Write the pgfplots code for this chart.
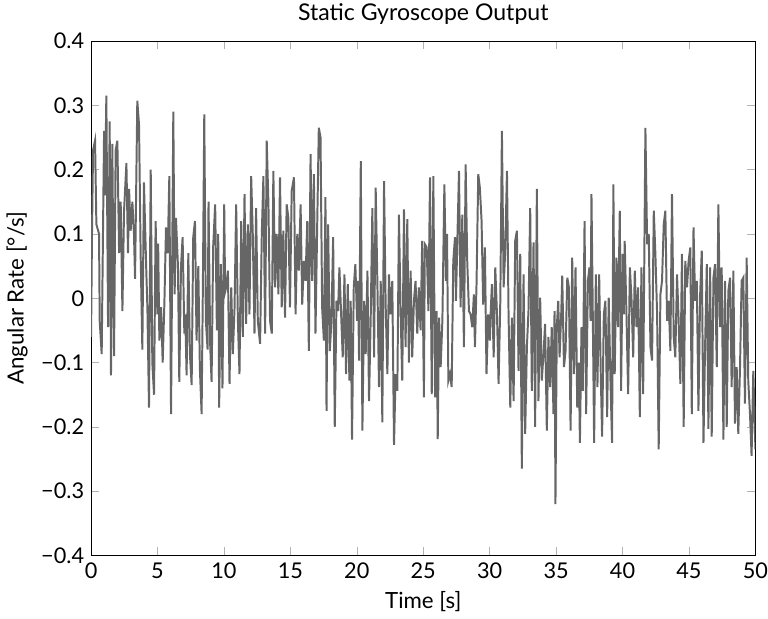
\documentclass[border=0pt]{standalone}
\usepackage{fontspec}
\setmainfont{Lato}
\usepackage{pgfplots}
\pgfplotsset{compat=1.18}
\definecolor{sig}{RGB}{102,102,102}
\begin{document}
\begin{tikzpicture}
\begin{axis}[
  width=337pt, height=261pt, scale only axis,
  xmin=0, xmax=50, ymin=-0.4, ymax=0.4,
  xtick distance=5,
  ytick={-0.4,-0.3,-0.2,-0.1,0,0.1,0.2,0.3,0.4},
  yticklabels={−0.4,−0.3,−0.2,−0.1,0,0.1,0.2,0.3,0.4},
  /pgf/number format/assume math mode=true,
  tick label style={font=\fontsize{11}{13}\selectfont},
  xticklabel style={inner xsep=0pt},
  label style={font=\fontsize{11.3}{13}\selectfont},
  title style={font=\fontsize{11.7}{13}\selectfont, inner sep=2pt},
  title={Static Gyroscope Output},
  xlabel={Time [s]},
  ylabel={Angular Rate [°/s]},
  tick style={gray!60},
]
\addplot[color=sig, line width=1pt] table {
0.00 -0.06
0.07 0.10
0.15 0.23
0.30 0.245
0.40 0.115
0.60 0.10
0.65 -0.035
0.80 -0.087
0.98 0.26
1.05 0.16
1.15 0.315
1.28 -0.045
1.40 0.275
1.50 -0.12
1.60 0.24
1.73 -0.09
1.85 0.23
1.98 0.245
2.11 0.07
2.23 0.15
2.36 -0.02
2.48 0.135
2.66 0.21
2.78 0.07
2.86 0.17
2.98 0.105
3.11 0.15
3.23 0.10
3.31 0.03
3.48 0.307
3.61 0.27
3.73 0.07
3.86 -0.08
3.98 0.18
4.16 0.04
4.24 -0.015
4.36 -0.17
4.49 0.20
4.61 -0.10
4.74 -0.15
4.86 0.12
4.99 -0.025
5.05 0.085
5.14 -0.066
5.27 -0.014
5.39 -0.10
5.52 -0.006
5.64 0.11
5.77 0.07
5.89 0.19
6.02 -0.18
6.19 0.29
6.29 0.006
6.39 0.125
6.54 0.05
6.64 -0.13
6.77 0.05
6.89 0.095
7.02 -0.055
7.09 -0.025
7.19 -0.12
7.32 0.07
7.44 -0.087
7.57 -0.135
7.69 0.095
7.82 0.12
7.94 -0.066
8.07 0.05
8.19 -0.11
8.32 -0.18
8.42 0.03
8.52 0.286
8.64 -0.035
8.77 -0.08
8.84 0.15
8.97 -0.076
9.07 -0.13
9.19 0.08
9.34 0.146
9.47 -0.05
9.57 0.10
9.64 -0.17
9.77 0.053
9.89 -0.14
10.02 0.146
10.09 0.01
10.17 0.017
10.30 0.043
10.42 -0.133
10.55 0.017
10.67 -0.087
10.80 -0.014
10.92 0.146
11.05 -0.035
11.17 -0.118
11.30 0.12
11.42 -0.06
11.55 0.162
11.67 -0.04
11.80 0.115
11.92 -0.025
12.05 0.19
12.17 0.10
12.30 -0.055
12.42 0.14
12.55 -0.035
12.72 -0.071
12.85 0.10
12.97 0.19
13.10 -0.055
13.22 0.245
13.35 0.146
13.47 -0.035
13.60 -0.055
13.72 0.198
13.85 0.017
13.97 0.10
14.10 0.006
14.22 0.188
14.35 -0.014
14.47 0.105
14.60 -0.03
14.72 0.146
14.85 0.125
14.97 -0.014
15.10 0.167
15.27 0.188
15.39 -0.025
15.52 0.10
15.64 0.043
15.77 0.146
15.89 -0.01
16.02 0.058
16.14 0.027
16.27 0.12
16.39 -0.082
16.52 0.224
16.64 0.027
16.77 0.193
16.89 -0.055
17.02 0.115
17.14 0.265
17.27 0.25
17.39 -0.014
17.52 -0.066
17.64 0.157
17.72 -0.175
17.84 0.115
17.97 -0.082
18.09 -0.035
18.22 0.095
18.34 -0.20
18.47 -0.004
18.59 -0.02
18.69 0.048
18.82 -0.025
18.94 -0.092
19.07 0.037
19.19 -0.118
19.32 0.022
19.44 -0.128
19.54 -0.004
19.64 -0.22
19.77 0.017
19.89 0.053
20.02 -0.035
20.09 0.027
20.17 -0.097
20.30 0.213
20.42 -0.206
20.55 -0.004
20.67 -0.087
20.80 0.043
20.92 -0.16
21.05 -0.025
21.17 0.14
21.30 -0.092
21.42 0.172
21.55 0.022
21.67 -0.138
21.80 0.027
21.92 -0.193
22.05 0.182
22.17 -0.01
22.30 -0.118
22.42 0.037
22.55 -0.025
22.67 0.027
22.80 -0.228
22.92 -0.118
23.05 -0.144
23.17 0.13
23.30 -0.025
23.42 -0.128
23.55 0.138
23.67 -0.076
23.80 0.123
23.92 -0.10
24.05 0.043
24.17 -0.092
24.30 -0.004
24.42 0.027
24.55 -0.055
24.67 0.017
24.80 -0.05
24.92 0.089
25.05 -0.154
25.12 0.084
25.26 0.079
25.39 -0.02
25.51 0.188
25.64 -0.149
25.76 0.19
25.89 -0.154
26.01 -0.02
26.09 -0.219
26.19 -0.03
26.31 -0.107
26.44 -0.035
26.59 0.177
26.71 0.027
26.79 0.10
26.89 -0.128
27.01 -0.118
27.14 -0.138
27.26 0.058
27.39 0.095
27.46 -0.004
27.56 0.084
27.69 0.198
27.81 -0.014
27.94 0.13
28.06 -0.076
28.19 0.208
28.31 0.058
28.44 -0.02
28.56 -0.025
28.69 -0.045
28.81 0.006
28.89 -0.076
29.01 0.022
29.14 0.193
29.26 0.172
29.39 0.12
29.51 -0.01
29.64 0.079
29.76 -0.118
29.89 -0.025
30.01 -0.066
30.09 -0.014
30.17 0.022
30.30 -0.092
30.42 0.048
30.55 -0.025
30.67 -0.133
30.80 -0.004
30.92 0.26
31.05 0.017
31.17 0.074
31.30 0.198
31.42 -0.025
31.55 -0.17
31.67 -0.03
31.80 -0.16
31.92 0.089
32.05 0.105
32.17 -0.113
32.30 0.069
32.42 -0.265
32.55 0.037
32.67 -0.211
32.80 -0.076
32.92 -0.02
33.05 0.14
33.17 -0.144
33.30 0.087
33.42 -0.20
33.55 0.17
33.67 -0.16
33.80 0.001
33.92 -0.128
34.05 -0.087
34.17 -0.04
34.30 -0.206
34.42 -0.06
34.55 -0.138
34.67 -0.045
34.80 -0.18
34.88 -0.02
34.95 -0.32
35.05 -0.045
35.16 -0.004
35.26 -0.092
35.39 -0.02
35.46 0.035
35.59 -0.107
35.71 -0.082
35.84 0.032
35.96 0.017
36.09 -0.206
36.21 0.063
36.34 -0.118
36.46 0.048
36.59 -0.17
36.71 -0.10
36.79 -0.225
36.91 -0.045
37.01 -0.144
37.14 0.12
37.26 -0.18
37.39 0.027
37.51 0.048
37.59 -0.035
37.66 0.162
37.76 -0.025
37.86 -0.225
37.99 0.037
38.11 -0.138
38.24 0.037
38.36 -0.118
38.46 -0.215
38.59 -0.025
38.71 -0.004
38.84 -0.185
38.96 0.001
39.09 -0.128
39.21 -0.225
39.31 0.177
39.41 -0.118
39.54 0.063
39.66 -0.045
39.79 0.136
39.89 -0.144
40.01 0.069
40.09 -0.025
40.16 0.089
40.30 -0.03
40.42 -0.149
40.55 0.048
40.67 0.001
40.80 -0.092
40.92 0.043
41.05 -0.045
41.17 0.017
41.30 -0.185
41.42 0.048
41.55 -0.149
41.72 0.265
41.85 0.084
41.97 0.10
42.10 -0.076
42.22 -0.097
42.35 0.136
42.47 0.069
42.60 -0.025
42.72 -0.235
42.85 0.006
42.97 0.027
43.10 0.115
43.22 0.136
43.35 -0.035
43.47 -0.004
43.60 -0.082
43.72 0.162
43.85 -0.06
43.97 -0.092
44.10 0.037
44.22 -0.035
44.35 -0.133
44.47 0.069
44.60 -0.20
44.72 0.058
44.85 0.017
44.97 0.058
45.10 0.079
45.21 -0.18
45.34 0.11
45.46 -0.004
45.59 0.027
45.71 -0.175
45.84 0.006
45.96 0.074
46.09 -0.225
46.21 -0.076
46.34 0.053
46.46 -0.203
46.59 0.048
46.71 -0.215
46.84 0.032
46.96 0.053
47.09 -0.107
47.21 0.146
47.34 -0.045
47.46 0.048
47.59 -0.22
47.71 0.027
47.84 -0.20
47.96 0.011
48.09 0.032
48.21 -0.138
48.34 0.043
48.46 -0.195
48.59 -0.107
48.71 -0.211
48.84 -0.107
48.96 0.027
49.09 0.032
49.21 -0.164
49.34 0.063
49.46 -0.128
49.59 -0.18
49.71 -0.245
49.84 -0.113
50.00 -0.235
};
\end{axis}
\end{tikzpicture}
\end{document}
